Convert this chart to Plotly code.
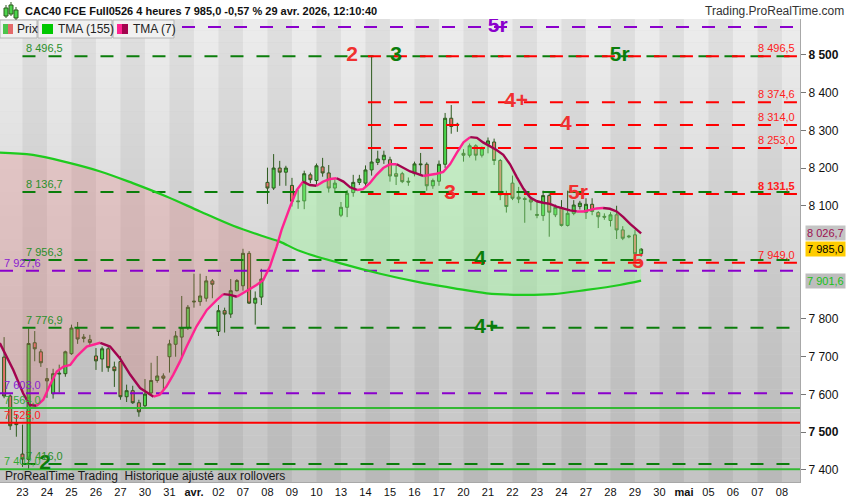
import plotly.graph_objects as go

# ---- data ----------------------------------------------------------------
day_labels = ["23", "24", "25", "26", "27", "30", "31", "<b>avr.</b>", "02", "07",
              "08", "09", "10", "13", "14", "15", "16", "17", "20", "21", "22",
              "23", "24", "27", "28", "29", "30", "<b>mai</b>", "05", "06", "07", "08"]

# 4h bars, 4 per day, bar 0 = first bar of 23 mars (negatives = 20 mars)
first_bar = -3
opens = [7699, 7596, 7524, 7442, 7428, 7737, 7713, 7642, 7602, 7654, 7655, 7708, 7774, 7752, 7745,
         7702, 7694, 7721, 7673, 7687, 7594, 7610, 7578, 7570, 7604, 7637, 7649, 7700, 7733, 7752,
         7777, 7845, 7846, 7855, 7901, 7767, 7822, 7813, 7875, 7888, 7974, 7842, 7858, 8162, 8147,
         8200, 8189, 8154, 8113, 8113, 8182, 8167, 8203, 8187, 8147, 8075, 8096, 8135, 8162, 8160,
         8195, 8215, 8222, 8222, 8185, 8185, 8165, 8185, 8211, 8210, 8153, 8165, 8210, 8332, 8316,
         8239, 8234, 8259, 8234, 8263, 8269, 8220, 8129, 8160, 8123, 8119, 8116, 8077, 8074, 8127,
         8076, 8095, 8048, 8080, 8098, 8082, 8104, 8082, 8072, 8061, 8076, 8036, 8020, 8023, 7973]
highs = [7752, 7600, 7548, 7520, 7775, 7768, 7720, 7670, 7668, 7679, 7716, 7785, 7792, 7760, 7758,
         7723, 7727, 7731, 7687, 7702, 7626, 7623, 7586, 7641, 7684, 7702, 7656, 7745, 7768, 7861,
         7837, 7920, 7920, 7914, 7906, 7837, 7830, 7906, 7906, 7986, 7980, 7873, 7933, 8201, 8237,
         8219, 8206, 8174, 8142, 8193, 8188, 8212, 8227, 8208, 8170, 8110, 8142, 8182, 8182, 8207,
         8496.5, 8246, 8246, 8230, 8208, 8190, 8175, 8217, 8240, 8215, 8172, 8220, 8346, 8367, 8320,
         8250, 8265, 8263, 8257, 8281, 8278, 8224, 8140, 8180, 8150, 8124, 8124, 8112, 8140, 8133,
         8103, 8115, 8140, 8115, 8113, 8120, 8120, 8086, 8080, 8083, 8100, 8046, 8023, 8036, 7988]
lows = [7590, 7506, 7488, 7408, 7402, 7688, 7673, 7591, 7589, 7605, 7647, 7705, 7734, 7738, 7730,
        7665, 7660, 7660, 7620, 7586, 7580, 7575, 7541, 7566, 7600, 7631, 7612, 7658, 7700, 7700,
        7771, 7830, 7835, 7846, 7855, 7755, 7764, 7803, 7873, 7875, 7840, 7785, 7837, 8105, 8142,
        8153, 8153, 8098, 8092, 8091, 8160, 8153, 8177, 8135, 8135, 8070, 8070, 8124, 8155, 8152,
        8180, 8208, 8211, 8164, 8155, 8160, 8153, 8178, 8182, 8140, 8145, 8153, 8200, 8291, 8296,
        8217, 8228, 8220, 8228, 8239, 8208, 8115, 8082, 8115, 8107, 8055, 8088, 8067, 8060, 8018,
        8070, 8045, 8045, 8075, 8090, 8065, 8075, 8041, 8063, 8045, 8012, 8009, 8014, 7964, 7965]
closes = [7596, 7517, 7520, 7429, 7735, 7721, 7684, 7636, 7655, 7656, 7713, 7776, 7747, 7749, 7738,
          7689, 7721, 7671, 7663, 7594, 7610, 7578, 7554, 7601, 7637, 7649, 7643, 7734, 7755, 7777,
          7831, 7847, 7861, 7901, 7892, 7822, 7813, 7875, 7902, 7974, 7842, 7855, 7906, 8147, 8200,
          8189, 8200, 8112, 8111, 8185, 8169, 8206, 8187, 8147, 8160, 8096, 8133, 8162, 8171, 8195,
          8216, 8224, 8234, 8179, 8178, 8164, 8163, 8211, 8209, 8153, 8167, 8210, 8332, 8310, 8314,
          8234, 8259, 8234, 8253, 8272, 8220, 8129, 8098, 8120, 8118, 8117, 8110, 8075, 8127, 8083,
          8096, 8048, 8080, 8102, 8107, 8104, 8085, 8071, 8070, 8076, 8036, 8014, 8018, 7973, 7985]
bars = list(range(first_bar, first_bar + len(opens)))

# TMA (7) and TMA (155) (bar position, price)
tma7_x = [-3.7, -1.5, 0.1, 1.2, 2.3, 3.4, 4.5, 5.6, 6.7, 7.8, 8.8, 10.5, 12.7, 14.3, 15.9,
          17.6, 19.2, 21.4, 22.4, 23.5, 24.6, 25.7, 26.8, 28.4, 30.1, 31.7, 32.8, 33.9, 35.0,
          36.0, 37.1, 38.2, 39.3, 40.4, 41.5, 42.3, 43.7, 44.8, 45.8, 46.9, 48.0, 49.1, 50.2,
          51.3, 52.4, 53.5, 54.6, 55.6, 56.7, 57.8, 58.9, 60.0, 61.1, 62.2, 63.3, 64.4, 65.4,
          66.5, 67.6, 68.7, 69.8, 70.9, 72.0, 73.1, 74.2, 75.2, 76.3, 77.4, 78.5, 79.6, 80.7,
          81.8, 82.9, 84.0, 85.0, 86.1, 87.2, 88.3, 89.4, 90.5, 91.6, 92.7, 93.7, 94.8, 95.9,
          97.0, 98.1, 99.2, 100.3, 101.0]
tma7_y = [7736, 7665, 7603, 7572, 7570, 7586, 7625, 7661, 7674, 7678, 7700, 7727, 7737, 7727, 7696,
          7652, 7617, 7594, 7599, 7621, 7652, 7687, 7727, 7780, 7824, 7850, 7866, 7864, 7859,
          7868, 7878, 7890, 7903, 7939, 7992, 8036, 8098, 8142, 8164, 8155, 8153, 8164, 8171,
          8173, 8164, 8149, 8142, 8144, 8160, 8182, 8200, 8210, 8210, 8200, 8191, 8185, 8179,
          8182, 8185, 8190, 8210, 8240, 8268, 8282, 8280, 8268, 8259, 8248, 8235, 8210, 8176,
          8145, 8122, 8112, 8108, 8105, 8098, 8092, 8088, 8085, 8085, 8089, 8093, 8094, 8092,
          8085, 8070, 8052, 8035, 8026.7]
tma155_x = [-3.7, 1.7, 7.3, 12.7, 18.0, 23.6, 29.0, 34.4, 39.9, 42.0, 45.3, 51.8, 58.4, 64.9,
            70.3, 75.8, 81.2, 86.6, 92.1, 97.5, 101.0]
tma155_y = [8241, 8235, 8215, 8191, 8160, 8124, 8085, 8047, 8016, 8005, 7980, 7948, 7920, 7897,
            7882, 7868, 7864, 7866, 7877, 7890, 7901.6]
cross_x, cross_y = 41.7, 8003

# horizontal levels
green_dash_levels = [8496.5, 8136.7, 7956.3, 7776.9, 7416.0]
red_dash_levels = [8496.5, 8374.6, 8314.0, 8253.0, 8131.5, 7949.0]
purple_levels = [8574.0, 7927.6, 7603.0]
green_solid_levels = [7564.0, 7402.0]
red_solid_levels = [7525.0]

# wave counts written on the levels: text, bar, price, colour key
wave_marks = [("5r", 77.6, 8574.0, "purple"), ("2", 53.8, 8496.5, "red"), ("3", 61.0, 8496.5, "green"),
              ("5r", 97.5, 8496.5, "green"), ("4+", 80.6, 8374.6, "red"), ("4", 88.7, 8314.0, "red"),
              ("3", 69.8, 8131.5, "red"), ("5r", 90.7, 8131.5, "red"), ("4", 74.7, 7956.3, "green"),
              ("5", 100.5, 7949.0, "red"), ("4+", 75.7, 7776.9, "green"), ("2", 3.7, 7416.0, "green")]

price_ticks = [8500, 8400, 8300, 8200, 8100, 7800, 7700, 7600, 7500, 7400]
last_price = 7985.0

FONT = "Liberation Sans, Arial, sans-serif"
COL = {"green": "#0b7d0b", "red": "#f03030", "purple": "#8a00cc"}
PLOT_W, PLOT_TOP, PLOT_BOT = 800, 19, 482


def fr(v):
    return f"{v:,.1f}".replace(",", " ").replace(".", ",")


def px2x(px):
    return px / PLOT_W


def py2y(py):
    return (PLOT_BOT - py) / (PLOT_BOT - PLOT_TOP)


x_lo, x_hi = -3.67, 126.94

fig = go.Figure()

# fills between the two averages
pink_x = [x for x in tma155_x if x < cross_x] + [cross_x] + [x for x in tma7_x if x < cross_x][::-1]
pink_y = [y for x, y in zip(tma155_x, tma155_y) if x < cross_x] + [cross_y] + \
         [y for x, y in zip(tma7_x, tma7_y) if x < cross_x][::-1]
fig.add_trace(go.Scatter(x=pink_x, y=pink_y, fill="toself", mode="none",
                         fillcolor="rgba(228,110,110,0.24)", hoverinfo="skip", showlegend=False))
grn_x = [cross_x] + [x for x in tma7_x if x > cross_x] + [x for x in tma155_x if x > cross_x][::-1]
grn_y = [cross_y] + [y for x, y in zip(tma7_x, tma7_y) if x > cross_x] + \
        [y for x, y in zip(tma155_x, tma155_y) if x > cross_x][::-1]
fig.add_trace(go.Scatter(x=grn_x, y=grn_y, fill="toself", mode="none",
                         fillcolor="rgba(140,255,140,0.35)", hoverinfo="skip", showlegend=False))


def hline(y, x0, x1, color, dash=None, width=2):
    fig.add_trace(go.Scatter(x=[x0, x1], y=[y, y], mode="lines", hoverinfo="skip", showlegend=False,
                             line=dict(color=color, width=width, dash=dash)))


for lv in purple_levels:
    hline(lv, x_lo, 126.5, COL["purple"], "13px,13px")
for lv in green_solid_levels:
    hline(lv, x_lo, x_hi, "#33b833")
for lv in red_solid_levels:
    hline(lv, x_lo, x_hi, "#ff0000")
for lv in green_dash_levels:
    hline(lv, 0, 126.5, COL["green"], "13px,13px")
for lv in red_dash_levels:
    hline(lv, 56.4, 126.5, "#ff0000", "13px,13px")

fig.add_trace(go.Candlestick(
    x=bars, open=opens, high=highs, low=lows, close=closes, showlegend=False, hoverinfo="skip",
    whiskerwidth=0,
    increasing=dict(fillcolor="#4cd44c", line=dict(color="#2d5a1e", width=1)),
    decreasing=dict(fillcolor="#e4726a", line=dict(color="#2d5a1e", width=1))))

fig.add_trace(go.Scatter(x=tma155_x, y=tma155_y, mode="lines", line=dict(color="#1ecb1e", width=2.2),
                         line_shape="spline", hoverinfo="skip", showlegend=False))

# TMA 7: pink when rising, maroon when falling
runs = []
for k in range(1, len(tma7_x)):
    up = tma7_y[k] >= tma7_y[k - 1]
    if runs and runs[-1][0] == up:
        runs[-1][1].append(k)
    else:
        runs.append([up, [k - 1, k]])
for up, idx in runs:
    fig.add_trace(go.Scatter(x=[tma7_x[i] for i in idx], y=[tma7_y[i] for i in idx], mode="lines",
                             line=dict(color="#ff2390" if up else "#a3044f", width=2.4),
                             hoverinfo="skip", showlegend=False))

for txt, bx, lv, ck in wave_marks:
    fig.add_trace(go.Scatter(x=[bx], y=[lv], mode="text", text=[f"<b>{txt}</b>"], hoverinfo="skip",
                             showlegend=False, textfont=dict(family=FONT, size=21, color=COL[ck])))

# background: vertical gradient + alternating day bands
shapes = []
n = 40
for k in range(n):
    g = int(237 - (237 - 196) * (k + 0.5) / n)
    shapes.append(dict(type="rect", xref="paper", yref="paper", x0=0, x1=1, y0=1 - (k + 1) / n,
                       y1=1 - k / n, fillcolor=f"rgb({g},{g},{g})", line=dict(width=0), layer="below"))
for d in range(0, len(day_labels), 2):
    shapes.append(dict(type="rect", xref="x", yref="paper", x0=4 * d, x1=4 * d + 4, y0=0, y1=1,
                       fillcolor="rgba(0,0,0,0.055)", line=dict(width=0), layer="below"))

# legend boxes
for x0, x1 in [(0, 37), (38, 112), (113, 174)]:
    shapes.append(dict(type="rect", xref="paper", yref="paper", x0=px2x(x0), x1=px2x(x1),
                       y0=py2y(38), y1=py2y(20), fillcolor="#f1f1f1", line=dict(color="#b4b4b4", width=1)))
for x0, x1, c in [(3, 8, "#4cc44c"), (8, 13, "#e46a6a"), (42, 53, "#00c800"), (117, 122, "#ff2390"),
                  (122, 128, "#a3044f")]:
    shapes.append(dict(type="rect", xref="paper", yref="paper", x0=px2x(x0), x1=px2x(x1),
                       y0=py2y(34), y1=py2y(24), fillcolor=c, line=dict(width=0)))
# header icon
for cx, t, b in [(6, 6, 16), (11, 3, 14), (16, 8, 18)]:
    shapes.append(dict(type="line", xref="paper", yref="paper", x0=px2x(cx), x1=px2x(cx),
                       y0=py2y(b + 2), y1=py2y(t - 1), line=dict(color="#2d5a1e", width=1)))
    shapes.append(dict(type="rect", xref="paper", yref="paper", x0=px2x(cx - 2), x1=px2x(cx + 2),
                       y0=py2y(b), y1=py2y(t + 2), fillcolor="#4cd44c", line=dict(color="#2d5a1e", width=1)))

ann = []
ann.append(dict(xref="paper", yref="paper", x=px2x(23), y=py2y(11), xanchor="left", yanchor="middle",
                text="<b>CAC40 FCE Full0526 4 heures 7 985,0 -0,57 % 29 avr. 2026, 12:10:40</b>",
                showarrow=False, font=dict(family=FONT, size=11, color="#111")))
ann.append(dict(xref="paper", yref="paper", x=px2x(846), y=py2y(11), xanchor="right", yanchor="middle",
                text="Trading.ProRealTime.com", showarrow=False, font=dict(family=FONT, size=12, color="#333")))
for px, txt in [(15, "Prix"), (56, "TMA (155)"), (131, "TMA (7)")]:
    ann.append(dict(xref="paper", yref="paper", x=px2x(px), y=py2y(29), xanchor="left", yanchor="middle",
                    text=txt, showarrow=False, font=dict(family=FONT, size=12, color="#222")))
ann.append(dict(xref="paper", yref="paper", x=px2x(3), y=py2y(476), xanchor="left", yanchor="middle",
                text="ProRealTime Trading  Historique ajusté aux rollovers", showarrow=False,
                font=dict(family=FONT, size=12, color="#1a1a1a")))


def level_label(lv, px, anchor, color, bold=False):
    t = fr(lv)
    ann.append(dict(xref="paper", yref="y", x=px2x(px), y=lv, xanchor=anchor, yanchor="bottom", yshift=0,
                    text=f"<b>{t}</b>" if bold else t, showarrow=False,
                    font=dict(family=FONT, size=11, color=color)))


for lv in green_dash_levels:
    level_label(lv, 24, "left", "#2a8f2a")
for lv in red_dash_levels:
    level_label(lv, 797, "right", "#ff2020", bold=(lv == 8131.5))
for lv in purple_levels[1:]:
    level_label(lv, 2, "left", "#8a20d0")
for lv in green_solid_levels:
    level_label(lv, 2, "left", "#33aa33")
for lv in red_solid_levels:
    level_label(lv, 2, "left", "#ff2020")

# value boxes on the price axis
for val, fg, bg in [(tma7_y[-1], "#9c1050", "#c4c4c4"), (last_price, "#000", "#ffcc00"),
                    (tma155_y[-1], "#18c018", "#bdbdbd")]:
    ann.append(dict(xref="paper", yref="y", x=px2x(805), y=val, xanchor="left", yanchor="middle",
                    text=fr(val), showarrow=False, bgcolor=bg, borderpad=1,
                    font=dict(family=FONT, size=11, color=fg)))

fig.update_layout(
    width=850, height=500, margin=dict(l=0, r=50, t=PLOT_TOP, b=500 - PLOT_BOT),
    paper_bgcolor="white", plot_bgcolor="#dcdcdc", shapes=shapes, annotations=ann,
    font=dict(family=FONT, size=11, color="#111"), showlegend=False,
    xaxis=dict(range=[x_lo, x_hi], rangeslider=dict(visible=False), showgrid=False, zeroline=False,
               tickvals=[4 * d for d in range(len(day_labels))], ticktext=day_labels,
               tickfont=dict(family=FONT, size=11, color="#111"), ticks="", showline=True,
               linecolor="#a8a8a8", linewidth=1),
    yaxis=dict(range=[7368, 8595], side="right", showgrid=False, zeroline=False,
               tickvals=price_ticks,
               ticktext=[f"<b>{fr(v)[:-2]}</b>" if v in (8500, 7500) else fr(v)[:-2] for v in price_ticks],
               ticks="outside", ticklen=5, tickcolor="#777", showline=True, linecolor="#a8a8a8",
               tickfont=dict(family=FONT, size=12, color="#111")),
)

# the page body has a default 8px margin; drop it so the figure sits at the window corner
fig.write_html("out.html", config={"displayModeBar": False},
               post_script="document.body.style.margin='0';")
